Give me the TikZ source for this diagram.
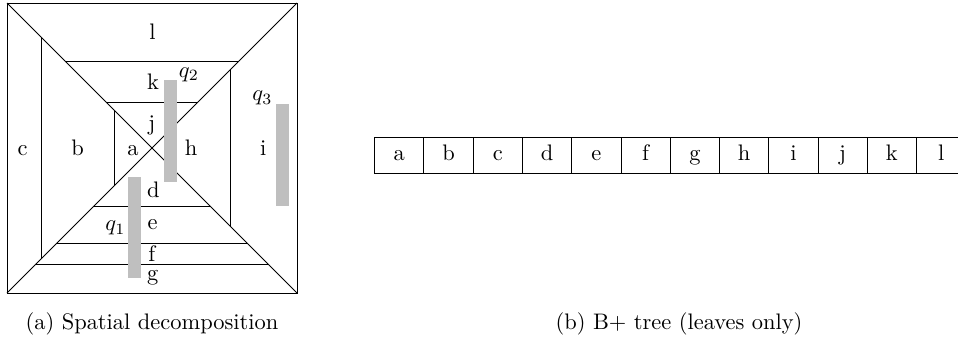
\documentclass[tikz,border=0pt]{standalone}
\usetikzlibrary{positioning}

\begin{document}
\begin{tikzpicture}[x=0.4454pt,y=-0.4454pt, every node/.style={inner sep=0pt,outer sep=0pt},
  lbl/.style={anchor=base},
  query/.style={fill=gray!50},
  leaf/.style={draw,minimum width=21.94pt,minimum height=16.17pt,text height=6.94pt,text depth=1.94pt}]
\useasboundingbox (0,0) rectangle (958,342);
% (a) spatial decomposition
\draw (7,3) rectangle (297,293);
\draw (7,3) -- (297,293); \draw (7,293) -- (297,3);
\foreach \d in {34,107} \draw (7+\d,3+\d) -- (7+\d,293-\d);
\foreach \d in {58,99} \draw (7+\d,3+\d) -- (297-\d,3+\d);
\foreach \d in {67} \draw (297-\d,3+\d) -- (297-\d,293-\d);
\foreach \d in {87,50,29} \draw (7+\d,293-\d) -- (297-\d,293-\d);
\fill[query] (164.3,80) rectangle (176.7,181.7);
\fill[query] (128.3,177) rectangle (140.7,278.3);
\fill[query] (276,104.3) rectangle (288.7,205.7);
\node[lbl] (cl) at (152.5,39.3) {l};
\node[lbl] (ck) at (153,89.3) {k};
\node[lbl] (cj) at (151.7,130.7) {j};
\node[lbl] (cc) at (22.7,155.5) {c};
\node[lbl] (cb) at (77.7,155.5) {b};
\node[lbl] (ca) at (133,155.5) {a};
\node[lbl] (ch) at (191,155.5) {h};
\node[lbl] (ci) at (263.3,155.5) {i};
\node[lbl] (cd) at (153.3,197.3) {d};
\node[lbl] (ce) at (152.7,229.3) {e};
\node[lbl] (cf) at (151.7,261.5) {f};
\node[lbl] (cg) at (152.7,280.7) {g};
\node[lbl] (q1) at (115.3,230.7) {$q_1$};
\node[lbl] (q2) at (189,77.3) {$q_2$};
\node[lbl] (q3) at (262.3,100.7) {$q_3$};
\node[lbl] (capa) at (152,329.3) {(a) Spatial decomposition};
% (b) B+ tree leaves
\node[leaf] (leaf1) at (399.3,155.2) {a};
\foreach \t [count=\i from 2, evaluate=\i as \j using int(\i-1)] in {b,c,d,e,f,g,h,i,j,k,l}
  \node[leaf,right=0pt of leaf\j] (leaf\i) {\t};
\node[lbl] (capb) at (679,329.3) {(b) B+ tree (leaves only)};
\end{tikzpicture}
\end{document}
